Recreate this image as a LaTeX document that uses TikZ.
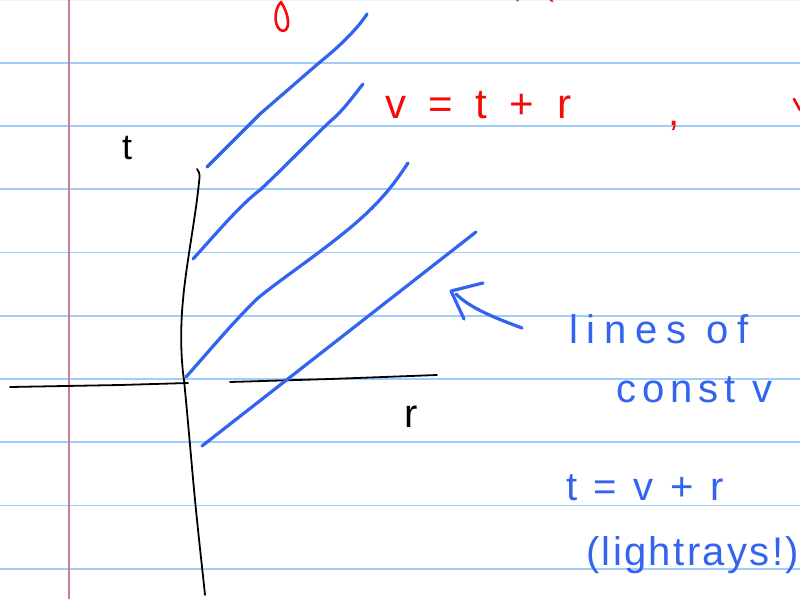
\documentclass[tikz,border=0pt]{standalone}
\usepackage{fontspec}
\setmainfont{Liberation Sans}
\definecolor{rulecol}{RGB}{160,205,250}
\definecolor{rulefaint}{RGB}{232,241,252}
\definecolor{margincol}{RGB}{200,125,150}
\definecolor{pen}{RGB}{50,100,240}
\definecolor{redpen}{RGB}{245,10,10}
\begin{document}
\begin{tikzpicture}[x=1pt,y=-1pt,
  ruleline/.style={draw=rulecol, line width=1.6pt},
  blueink/.style={draw=pen, line width=3.2pt, line cap=round, line join=round},
  blackink/.style={draw=black, line width=1.8pt, line cap=round, line join=round},
  redink/.style={draw=redpen, line width=2.6pt, line cap=round, line join=round},
  hand/.style={anchor=base west, inner sep=0pt, outer sep=0pt},
  bluetxt/.style={hand, text=pen},
  redtxt/.style={hand, text=redpen},
  blacktxt/.style={hand, text=black}]
\useasboundingbox (0,0) rectangle (800,599);
\clip (0,0) rectangle (800,599);
\fill[white] (0,0) rectangle (800,599);
% ruled paper
\draw[draw=rulefaint, line width=1.6pt] (0,0.5) -- (800,0.5);
\foreach \k in {1,...,9} {
  \draw[ruleline] (0,{-0.5+63.25*\k}) -- (800,{-0.5+63.25*\k});
}
\draw[draw=margincol, line width=1.6pt] (69,0) -- (69,599);
% axes
\draw[blackink] (197,169) .. controls (200,173) and (200,176) .. (199,182)
  .. controls (196,215) and (186,265) .. (183,300)
  .. controls (180,330) and (181,360) .. (184,380)
  .. controls (188,420) and (192,470) .. (196,510)
  .. controls (200,550) and (203,575) .. (205,595);
\draw[blackink] (10,387) -- (120,385) -- (188,383);
\draw[blackink] (230,382) -- (330,379) -- (437,375);
% light lines
\draw[blueink] (207,167) -- (260,114) -- (320,62) .. controls (345,42) and (360,25) .. (367,14);
\draw[blueink] (193,259) .. controls (215,235) and (240,205) .. (260,190)
  .. controls (290,162) and (320,130) .. (334,118) .. controls (345,108) and (355,94) .. (363,84);
\draw[blueink] (186,377) .. controls (210,350) and (235,320) .. (258,298)
  .. controls (290,272) and (340,240) .. (372,208) .. controls (390,190) and (400,175) .. (408,163);
\draw[blueink] (202,446) -- (476,232);
% arrow
\draw[blueink] (483,283) -- (451,291) -- (464,319);
\draw[blueink] (456,294) .. controls (470,308) and (495,318) .. (522,328);
% red marks at top and right edge (fragments of cut-off writing)
\draw[redink] (281,2) .. controls (273,10) and (274,30) .. (283,31) .. controls (291,30) and (289,14) .. (281,2);
\draw[redpen, line width=1.5pt] (517,0) -- (518,1);
\draw[redpen, line width=1.5pt] (550,0) -- (553,1.5);
\draw[redink] (794,99) -- (800,110);
% labels
\node[blacktxt, font=\fontsize{36}{36}\selectfont] (tlab) at (122,159) {t};
\node[blacktxt, font=\fontsize{40}{40}\selectfont] (rlab) at (404,427) {r};
\node[redtxt, font=\fontsize{42}{42}\selectfont\addfontfeature{LetterSpace=26}] (vdef) at (385,118) {v = t + r};
\node[redtxt, font=\fontsize{40}{40}\selectfont] (comma) at (668,126) {,};
\node[bluetxt, font=\fontsize{40}{40}\selectfont\addfontfeature{LetterSpace=22}] (lines) at (569,343) {lines of};
\node[bluetxt, font=\fontsize{40}{40}\selectfont\addfontfeature{LetterSpace=15}] (const) at (616,402) {const v};
\node[bluetxt, font=\fontsize{40}{40}\selectfont\addfontfeature{LetterSpace=14}] (tdef) at (566,500) {t = v + r};
\node[bluetxt, font=\fontsize{40}{40}\selectfont\addfontfeature{LetterSpace=6}] (light) at (586,565) {(lightrays!)};
\end{tikzpicture}
\end{document}
